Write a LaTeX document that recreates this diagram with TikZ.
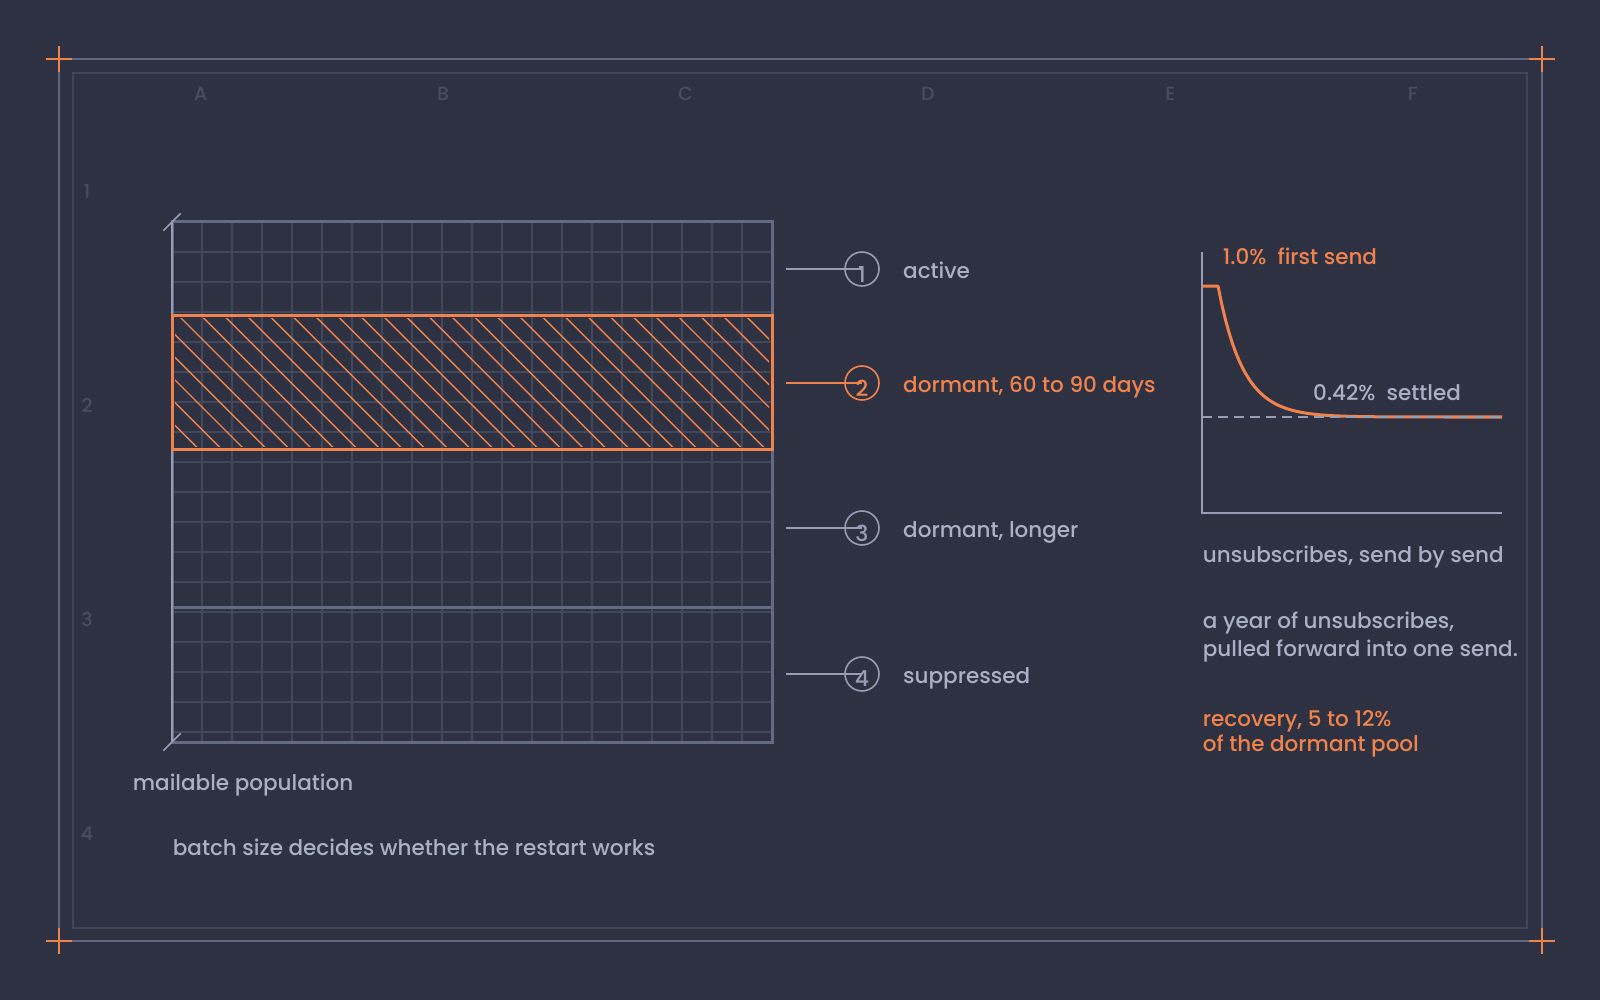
\documentclass[tikz,border=0pt]{standalone}
\usepackage{fontspec}
\setmainfont{Poppins}[UprightFont={* Medium}]
\usetikzlibrary{calc}
\definecolor{fond}{HTML}{2E3142}
\definecolor{cadre}{HTML}{5E6681}
\definecolor{cadrein}{HTML}{40465A}
\definecolor{grille}{HTML}{41485C}
\definecolor{bord}{HTML}{626A86}
\definecolor{texte}{HTML}{AAB0C5}
\definecolor{anneau}{HTML}{979DB5}
\definecolor{accent}{HTML}{F0834B}
\definecolor{pale}{HTML}{474D63}
\tikzset{
  txt/.style={anchor=base west, inner sep=0pt, text=texte, font=\fontsize{21.5}{25}\selectfont},
  txtor/.style={txt, text=accent},
  repere/.style={anchor=base, inner sep=0pt, text=pale, font=\fontsize{19}{22}\selectfont},
  pastille/.style={circle, draw=anneau, line width=1.6pt, minimum size=34pt, inner sep=0pt},
  chiffre/.style={text=anneau, inner sep=0pt, yshift=-5pt, font=\fontsize{22}{24}\selectfont},
}
\begin{document}
\begin{tikzpicture}[x=1pt,y=-1pt]
\fill[fond] (0,0) rectangle (1600,1000);
\useasboundingbox (0,0) rectangle (1600,1000);
			% Cadre
\draw[cadre, line width=2pt] (58.7,58.7) rectangle (1541.7,941);
\draw[cadrein, line width=2pt] (72.7,72.7) rectangle (1526.7,927.5);
\foreach \x in {58.7,1541.7} \foreach \y in {58.7,941}
  \draw[accent, line width=2pt] (\x-13,\y) -- (\x+13,\y) (\x,\y-13) -- (\x,\y+13);
\foreach \l [count=\i from 0] in {A,...,F} \node[repere] (col\l) at ({200.7+242.4*\i},101) {\l};
\foreach \r in {1,...,4} \node[repere] (lig\r) at (87,{198.3+214*(\r-1)}) {\r};
			% Bloc
\foreach \x in {202,232,...,742} \draw[grille, line width=1.5pt] (\x,222) -- (\x,742);
\foreach \y in {252,282,...,732} \draw[grille, line width=1.5pt] (172,\y) -- (772,\y);
\begin{scope}
\clip (175,318) rectangle (769,446);
\foreach \k in {-6,...,27} \draw[accent, line width=1.4pt] ({178+22.67*\k},315) -- ++(134,134);
\end{scope}
\draw[bord, line width=3pt] (172,449) -- (772,449) (172,607) -- (772,607);
\draw[bord, line width=3pt] (172,222) rectangle (772,742);
\draw[anneau, line width=2pt] (172,222) -- (172,742);
\draw[anneau, line width=1.5pt] (163.3,230.7) -- (180.7,213.3) (163.3,750.7) -- (180.7,733.3);
\draw[accent, line width=3pt] (172,315) rectangle (772,449);
			% Pastilles
\node[pastille, label={[chiffre]center:1}] (p1) at (862,269) {};
\node[pastille, draw=accent, label={[chiffre, text=accent]center:2}] (p2) at (862,383) {};
\node[pastille, label={[chiffre]center:3}] (p3) at (862,528) {};
\node[pastille, label={[chiffre]center:4}] (p4) at (862,674) {};
\coordinate (d1) at (786,269);
\coordinate (d2) at (786,383);
\coordinate (d3) at (786,528);
\coordinate (d4) at (786,674);
\draw[anneau, line width=1.6pt] (d1) -- (p1.center) (d3) -- (p3.center) (d4) -- (p4.center);
\draw[accent, line width=1.6pt] (d2) -- (p2.center);
\node[txt] (e1) at (903,278) {active};
\node[txtor] (e2) at (903,392) {dormant, 60 to 90 days};
\node[txt] (e3) at (903,537) {dormant, longer};
\node[txt] (e4) at (903,683) {suppressed};
\node[txt] (pop) at (132.7,790.7) {mailable population};
\node[txt] (batch) at (172.7,855.7) {batch size decides whether the restart works};
			% Courbe
\draw[anneau, line width=1.5pt] (1202,252) -- (1202,513) -- (1502,513);
\draw[accent, line width=3pt, line join=round] (1202,286) -- (1218,286) -- plot[domain=1218:1502, samples=80] (\x,{417-131*exp(-(\x-1218)/25)});
\draw[anneau, line width=1.5pt, dash pattern=on 10pt off 6pt] (1202,417) -- (1502,417);
\node[txtor] (premier) at (1222.7,265) {1.0\%~~first send};
\node[txt] (palier) at (1313,400) {0.42\%~~settled};
\node[txt] (titre) at (1202.7,562.3) {unsubscribes, send by send};
\node[txt] (annee) at (1202.7,628.3) {a year of unsubscribes,};
\node[txt] (avance) at (1202.7,656) {pulled forward into one send.};
\node[txtor] (recup) at (1202.7,726.7) {recovery, 5 to 12\%};
\node[txtor] (pool) at (1202.7,751.7) {of the dormant pool};
\end{tikzpicture}
\end{document}
